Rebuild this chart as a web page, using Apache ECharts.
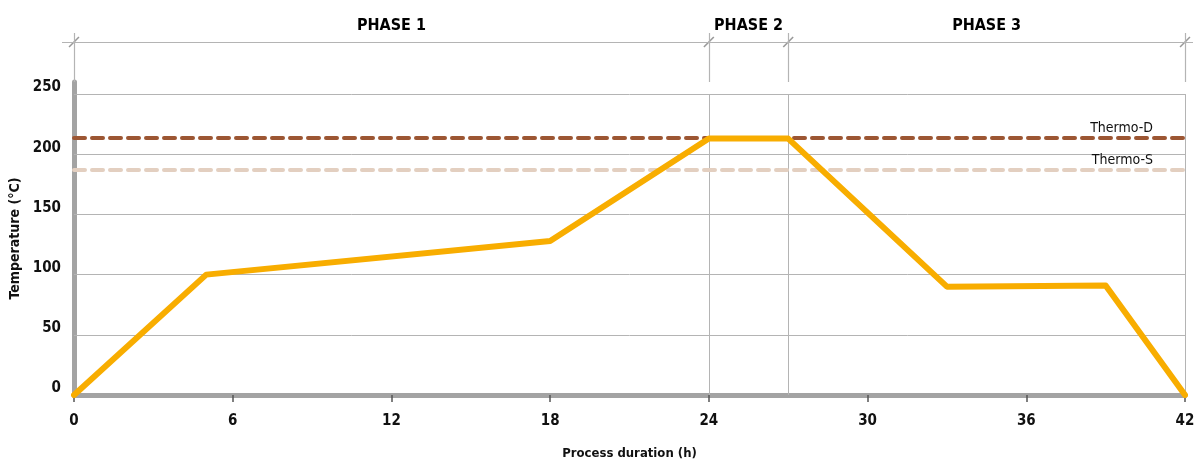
<!DOCTYPE html>
<html>
<head>
<meta charset="utf-8">
<script src="https://cdn.jsdelivr.net/npm/echarts@6/dist/echarts.min.js"></script>
<style>html,body{margin:0;padding:0;background:#fff}#c{width:1196px;height:462px}</style>
</head>
<body>
<div id="c"></div>
<script>
// ---- data ----
const hours = [0, 5, 18, 24, 27, 33, 39, 42];
const temps = [0, 100, 128, 213, 213, 90, 91, 0];
const yTicks = [0, 50, 100, 150, 200, 250];
const xTicks = [0, 6, 12, 18, 24, 30, 36, 42];
const phaseNames = ['PHASE 1', 'PHASE 2', 'PHASE 3'];
const phaseBounds = [0, 24, 27, 42];
const thermoNames = ['Thermo-D', 'Thermo-S'];
const thermoValues = [213.5, 187];

const FONT = "'Liberation Sans Narrow','DejaVu Sans Condensed','Roboto Condensed',sans-serif";
const GRID_C = '#b4b4b4';
const AXIS_C = '#a3a3a3';

// layout
const L = 74, R = 11, W = 1196;
const pxPerHour = (W - L - R) / 42;
const L2 = 62, R2 = 3;
const x2min = -(L - L2) / pxPerHour;
const x2max = 42 + (R - R2) / pxPerHour;

const lineData = hours.map((h, i) => [h, temps[i]]);
const phaseCenters = phaseNames.map((n, i) => [(phaseBounds[i] + phaseBounds[i + 1]) / 2, 56, n]);

const gridLines = yTicks.filter(v => v > 0).map(v => [{coord: [0, v]}, {coord: [42, v]}]);
const vertLines = phaseBounds.slice(1).map(x => [{coord: [x, 0]}, {coord: [x, 250]}]);

const chart = echarts.init(document.getElementById('c'), null, {renderer: 'canvas'});
chart.setOption({
  animation: false,
  textStyle: {fontFamily: FONT},
  grid: [
    {left: L, right: R, top: 82, bottom: 67, outerBoundsMode: 'none', containLabel: false},
    {left: L2, right: R2, top: 14, height: 68, outerBoundsMode: 'none', containLabel: false}
  ],
  xAxis: [
    {
      type: 'value', gridIndex: 0, min: 0, max: 42, interval: 6,
      axisLine: {show: true, onZero: false, lineStyle: {color: AXIS_C, width: 5}},
      axisTick: {show: true, length: 7, lineStyle: {color: '#555', width: 1.5}},
      axisLabel: {color: '#111', fontFamily: FONT, fontWeight: 'bold', fontSize: 15, margin: 19},
      splitLine: {show: false},
      name: 'Process duration (h)', nameLocation: 'middle', nameGap: 52,
      nameTextStyle: {color: '#111', fontFamily: FONT, fontWeight: 'bold', fontSize: 13}
    },
    {
      type: 'value', gridIndex: 1, min: x2min, max: x2max, show: false
    }
  ],
  yAxis: [
    {
      type: 'value', gridIndex: 0, min: 0, max: 260, interval: 50,
      axisLine: {show: true, lineStyle: {color: AXIS_C, width: 5}},
      axisTick: {show: false},
      axisLabel: {color: '#111', fontFamily: FONT, fontWeight: 'bold', fontSize: 15, margin: 13,
        showMaxLabel: false, verticalAlign: 'bottom', lineHeight: 13},
      splitLine: {show: false},
      name: 'Temperature (°C)', nameLocation: 'middle', nameGap: 50, nameRotate: 90,
      nameTextStyle: {color: '#111', fontFamily: FONT, fontWeight: 'bold', fontSize: 14}
    },
    {
      type: 'value', gridIndex: 1, min: 0, max: 68, show: false
    }
  ],
  series: [
    {
      name: 'grid', type: 'line', xAxisIndex: 0, yAxisIndex: 0, data: [], z: 1,
      markLine: {
        silent: true, symbol: 'none', animation: false,
        label: {show: false},
        lineStyle: {color: GRID_C, width: 1, type: 'solid'},
        data: gridLines.concat(vertLines)
      }
    },
    {
      name: 'thermo', type: 'line', xAxisIndex: 0, yAxisIndex: 0, data: [], z: 2,
      markLine: {
        silent: true, symbol: 'none', animation: false,
        data: thermoValues.map((v, i) => ({
          yAxis: v,
          lineStyle: {color: i === 0 ? '#9c5633' : '#e3cfc0', width: 4, type: [11, 7], cap: 'round'},
          label: {
            show: true, formatter: thermoNames[i], position: 'insideEndTop',
            color: '#111', fontFamily: FONT, fontSize: 14, distance: [32, 3]
          }
        }))
      }
    },
    {
      name: 'Temperature', type: 'line', xAxisIndex: 0, yAxisIndex: 0, z: 5,
      data: lineData, symbol: 'none',
      lineStyle: {color: '#f8ad00', width: 6, cap: 'round', join: 'round'}
    },
    {
      name: 'phases', type: 'line', xAxisIndex: 1, yAxisIndex: 1, data: [], z: 2,
      markLine: {
        silent: true, symbol: 'none', animation: false,
        label: {show: false},
        lineStyle: {color: GRID_C, width: 1.2, type: 'solid'},
        data: [[{coord: [x2min, 40]}, {coord: [x2max, 40]}]].concat(
          phaseBounds.map(x => [{coord: [x, 0]}, {coord: [x, 49]}]))
      }
    },
    {
      name: 'phaseMarks', type: 'scatter', xAxisIndex: 1, yAxisIndex: 1, z: 3,
      data: phaseBounds.map(x => [x, 40]),
      symbol: 'path://M0,10 L9,0 L10,1 L1,11 Z', symbolSize: [11, 11],
      itemStyle: {color: '#999', opacity: 1}, silent: true
    },
    {
      name: 'phaseLabels', type: 'scatter', xAxisIndex: 1, yAxisIndex: 1, z: 3,
      data: phaseCenters, symbolSize: 0, silent: true,
      itemStyle: {opacity: 1},
      label: {
        show: true, position: 'inside', formatter: p => p.data[2],
        color: '#000', fontFamily: FONT, fontWeight: 'bold', fontSize: 16
      }
    }
  ]
});
</script>
</body>
</html>
